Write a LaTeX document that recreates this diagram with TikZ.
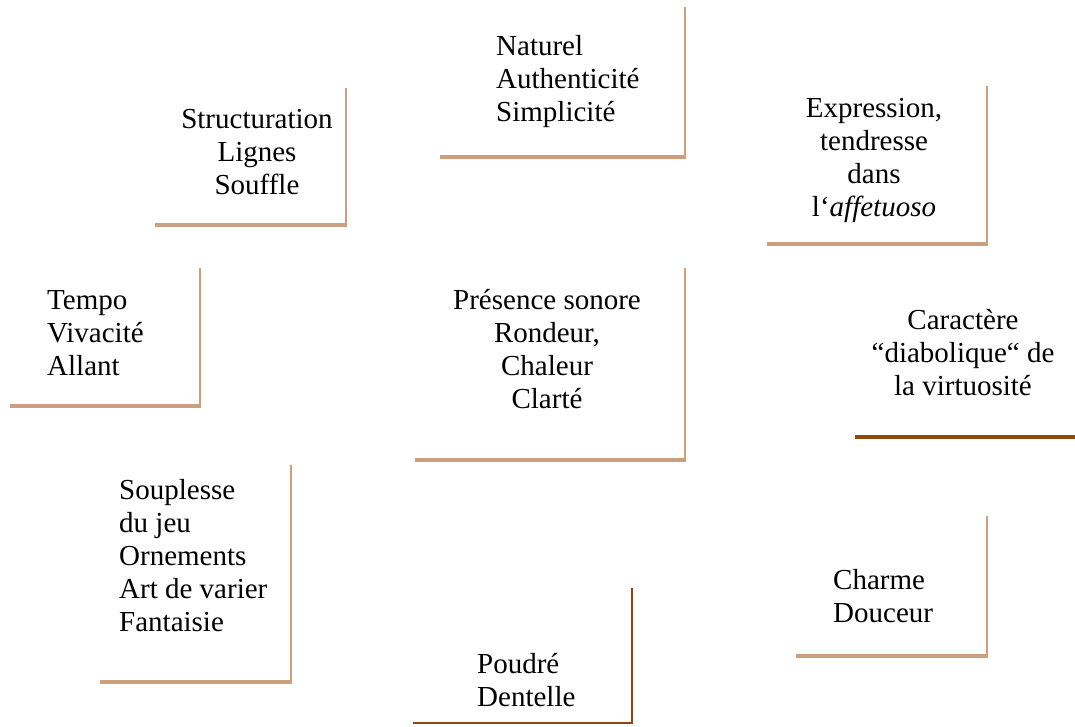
\documentclass[tikz,border=0pt]{standalone}
\usepackage{fontspec}
\setmainfont{Liberation Serif}
\definecolor{tan}{RGB}{204,160,126}
\definecolor{darkbrown}{RGB}{153,68,17}
\definecolor{thinbrown}{RGB}{140,70,25}
\tikzset{
  txt/.style={font=\fontsize{29}{33}\selectfont, inner sep=0pt, text=black},
  lefttxt/.style={txt, align=left, anchor=base west},
  midtxt/.style={txt, align=center, anchor=base},
  sideline/.style={draw=tan, line width=2pt},
  baseline/.style={draw=tan, line width=3.5pt},
  heavyline/.style={draw=darkbrown, line width=4pt},
  thinline/.style={draw=thinbrown, line width=1.3pt}
}
\begin{document}
\begin{tikzpicture}[x=1pt,y=-1pt]
\useasboundingbox (0,0) rectangle (1075,726);
% Naturel
\draw[sideline] (685,7) -- (685,158);
\draw[baseline] (440,157) -- (686,157);
\node[lefttxt] (nat) at (496,121) {Naturel\\Authenticité\\Simplicité};
% Structuration
\draw[sideline] (346,88) -- (346,226);
\draw[baseline] (155,225) -- (347,225);
\node[midtxt] (str) at (257,194) {Structuration\\Lignes\\Souffle};
% Expression
\draw[sideline] (987,86) -- (987,245);
\draw[baseline] (767,244) -- (988,244);
\node[midtxt] (exp) at (874,216) {Expression,\\tendresse\\dans\\l‘\textit{affetuoso}};
% Tempo
\draw[sideline] (200,268) -- (200,407);
\draw[baseline] (10,406) -- (201,406);
\node[lefttxt] (tem) at (47,375) {Tempo\\Vivacité\\Allant};
% Presence
\draw[sideline] (685,268) -- (685,461);
\draw[baseline] (415,460) -- (686,460);
\node[midtxt] (pre) at (547,408) {Présence sonore\\Rondeur,\\Chaleur\\Clarté};
% Caractere
\draw[heavyline] (855,437) -- (1075,437);
\node[midtxt] (car) at (963,395) {Caractère\\“diabolique“ de\\la virtuosité};
% Souplesse
\draw[sideline] (291,465) -- (291,683);
\draw[baseline] (100,682) -- (292,682);
\node[lefttxt] (sou) at (119,631) {Souplesse\\du jeu\\Ornements\\Art de varier\\Fantaisie};
% Charme
\draw[sideline] (987,516) -- (987,657);
\draw[baseline] (796,656) -- (988,656);
\node[lefttxt] (cha) at (833,622) {Charme\\Douceur};
% Poudre
\draw[thinline] (632,588) -- (632,724);
\draw[thinline] (413,723) -- (633,723);
\node[lefttxt] (pou) at (477,706) {Poudré\\Dentelle};
\end{tikzpicture}
\end{document}
